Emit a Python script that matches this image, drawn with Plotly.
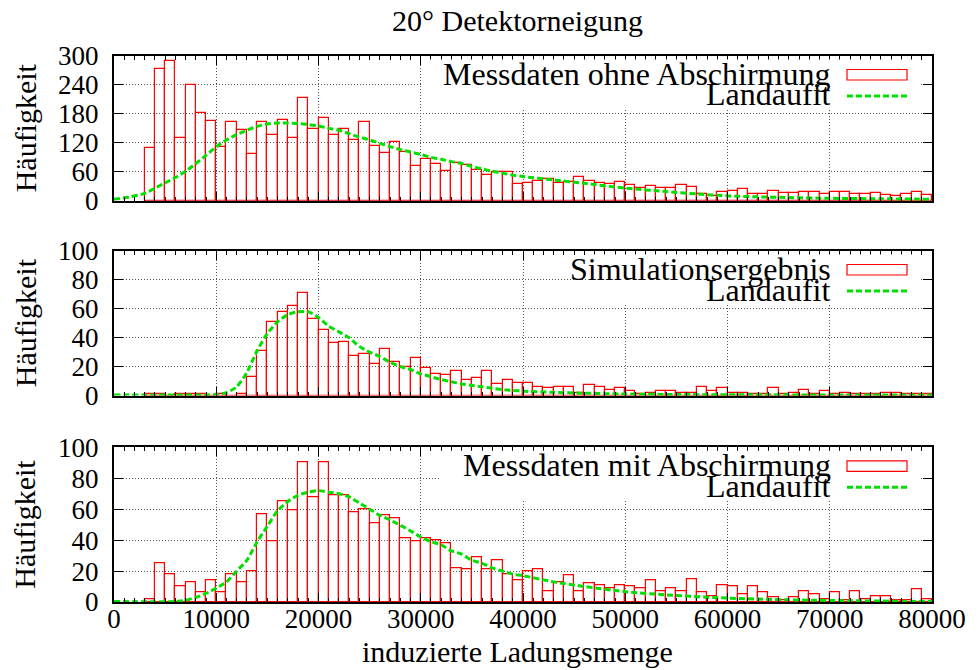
import plotly.graph_objects as go

BIN = 1000  # bin width of all histograms

# Messdaten ohne Abschirmung (first bin starts at 3000)
raw_start = 3000
raw_counts = [110, 274, 289, 129, 239, 181, 165, 112, 163, 147, 96, 163, 137, 168, 131, 212, 148, 171, 137, 148,
              125, 164, 114, 99, 122, 100, 72, 86, 77, 61, 79, 74, 63, 54, 60, 60, 35,
              36, 41, 44, 36, 39, 49, 40, 37, 35, 38, 33, 26, 31, 26, 26, 32, 28, 13, 10, 19,
              21, 24, 14, 14, 21, 17, 17, 19, 19, 13, 18, 18, 14, 13, 15, 12, 10, 14, 19, 12]
raw_fit_x = [0, 1500, 3000, 4000, 5000, 6000, 7000, 8000, 9000, 10000, 11000, 12000, 13000, 14000, 15000,
             16000, 17000, 18000, 19000, 20000, 21000, 22000, 23000, 24000, 25000, 26000, 27000, 28000,
             29000, 30000, 31000, 32000, 33000, 34000, 35000, 36000, 37000, 38000, 39000, 40000,
             43000, 46000, 50000, 54000, 57000, 60000, 63000, 66000, 70000, 75000, 80000]
raw_fit_y = [2.8, 8, 15, 26, 37, 48, 61, 77, 94, 112, 126, 137, 146, 154, 159, 161, 161, 160, 158, 155,
             150, 146, 139, 132, 126, 119, 112, 106, 101, 96, 90, 86, 81, 77, 71, 66, 61, 57, 53, 50,
             43, 36, 26, 19, 14, 10, 8, 6.5, 5, 4, 3]

# Simulationsergebnis
sim_start = 3000
sim_counts = [1, 1, 0, 1, 1, 1, 0, 1, 0, 1, 13, 31, 51, 58, 62, 71, 53, 45, 36, 37,
              27, 29, 22, 32, 23, 20, 26, 19, 15, 14, 17, 11, 12, 17, 8, 11, 9,
              9, 6, 5, 6, 6, 2, 7, 6, 4, 5, 3, 1, 2, 3, 3, 2, 2, 6, 3, 5,
              2, 2, 1, 1, 5, 1, 2, 4, 1, 3, 1, 2, 1, 1, 1, 2, 2, 1, 1, 1]
sim_fit_x = [0, 5000, 9000, 10000, 11000, 12000, 13000, 14000, 15000, 16000, 17000, 18000, 19000, 20000,
             21000, 22000, 23000, 24000, 25000, 26000, 27000, 28000, 29000, 30000, 31000, 32000, 33000,
             34000, 35000, 36000, 37000, 38000, 39000, 40000, 43000, 46000, 50000, 55000, 60000, 70000, 80000]
sim_fit_y = [0.3, 0.3, 0.4, 0.7, 2, 6, 16, 31, 43, 51, 56, 58, 58, 54, 48, 44, 40, 34, 30, 27, 23, 20,
             18, 15, 13, 11, 9.5, 8, 7, 6, 5, 4, 3.5, 3, 2.2, 1.6, 1, 0.7, 0.5, 0.4, 0.3]

# Messdaten mit Abschirmung
shd_start = 3000
shd_counts = [2, 25, 18, 10, 13, 6, 14, 6, 18, 13, 20, 57, 39, 65, 59, 90, 68, 90, 69, 69,
              58, 60, 51, 56, 54, 41, 39, 41, 40, 38, 22, 21, 29, 21, 27, 18, 14,
              20, 21, 7, 13, 17, 7, 12, 11, 9, 11, 10, 9, 14, 7, 9, 7, 15, 6, 4, 11,
              10, 5, 10, 6, 3, 1, 3, 7, 5, 2, 6, 1, 7, 2, 4, 4, 1, 1, 8, 2]
shd_fit_x = [0, 6000, 7000, 8000, 9000, 10000, 11000, 12000, 13000, 14000, 15000, 16000, 17000, 18000,
             19000, 20000, 21000, 22000, 23000, 24000, 25000, 26000, 27000, 28000, 29000, 30000, 31000,
             32000, 33000, 34000, 35000, 36000, 37000, 38000, 39000, 40000,
             43000, 46000, 50000, 54000, 60000, 66000, 72000, 80000]
shd_fit_y = [0.3, 0.3, 1, 3, 5.5, 9, 13, 20, 27, 39, 49, 59, 65, 69, 71, 72, 71, 70, 68, 64, 60, 56, 53,
             49.6, 46, 42, 39, 37, 33, 31, 27, 25, 22, 20, 18, 17, 13, 10, 6.7, 4.6, 2.5, 1.4, 0.8, 0.3]

x_ticks = [0, 10000, 20000, 30000, 40000, 50000, 60000, 70000, 80000]
y_ticks_raw = [0, 60, 120, 180, 240, 300]
y_ticks_pct = [0, 20, 40, 60, 80, 100]

title = "20° Detektorneigung"
x_title = "induzierte Ladungsmenge"
y_title = "Häufigkeit"
labels = ["Messdaten ohne Abschirmung", "Simulationsergebnis", "Messdaten mit Abschirmung"]
fit_label = "Landaufit"

FONT = "Liberation Serif, DejaVu Serif, serif"
TICK_SIZE = 27
TITLE_SIZE = 30
KEY_SIZE = 32
RED = "#ff0000"
GREEN = "#00e000"

# page geometry (pixels)
W, H = 979, 670
L, R, T, B = 114, 932, 56, 602


def px(p):
    return (p - L) / (R - L)


def py(p):
    return (B - p) / (B - T)


panels = [  # (top px, bottom px)
    (56, 200.7),
    (251, 395.5),
    (447.3, 602),
]

fig = go.Figure()

series = [
    (raw_start, raw_counts, raw_fit_x, raw_fit_y),
    (sim_start, sim_counts, sim_fit_x, sim_fit_y),
    (shd_start, shd_counts, shd_fit_x, shd_fit_y),
]

for i, (start, counts, fx, fy) in enumerate(series):
    xa = "x" if i == 0 else f"x{i + 1}"
    ya = "y" if i == 0 else f"y{i + 1}"
    centers = [start + BIN * (k + 0.5) for k in range(len(counts))]
    fig.add_trace(go.Bar(
        x=centers, y=counts, width=BIN, xaxis=xa, yaxis=ya, showlegend=False,
        marker=dict(color="rgba(0,0,0,0)", line=dict(color=RED, width=1.2)),
    ))
    fig.add_trace(go.Scatter(
        x=fx, y=fy, mode="lines", xaxis=xa, yaxis=ya, showlegend=False,
        line=dict(color=GREEN, width=3, dash="6px,3px", shape="spline", smoothing=0.6),
    ))

axis_common = dict(
    showline=True, linecolor="black", linewidth=2, mirror="ticks",
    ticks="inside", ticklen=9, tickwidth=1.2, tickcolor="black",
    showgrid=True, gridcolor="#555", gridwidth=1, griddash="1px,2px",
    zeroline=False, tickfont=dict(family=FONT, size=TICK_SIZE, color="black"),
)

layout = dict(
    width=W, height=H,
    margin=dict(l=L, r=W - R, t=T, b=H - B),
    paper_bgcolor="white", plot_bgcolor="white",
    bargap=0, showlegend=False,
    font=dict(family=FONT, size=TICK_SIZE, color="black"),
)

for i, (top, bot) in enumerate(panels):
    sfx = "" if i == 0 else str(i + 1)
    ax = dict(axis_common)
    ax.update(
        domain=[0, 1], range=[0, 80000], tickvals=x_ticks,
        ticktext=[str(v) for v in x_ticks],
        showticklabels=(i == 2), ticklabelstandoff=-8,
        minor=dict(dtick=BIN, tick0=0, ticks="inside", ticklen=4, tickwidth=1, tickcolor="black", showgrid=False),
        anchor="y" + sfx,
    )
    if i != 0:
        ax["matches"] = "x"
    yt = y_ticks_raw if i == 0 else y_ticks_pct
    ay = dict(axis_common)
    ay.update(
        domain=[max(0, py(bot)), min(1, py(top))], range=[yt[0], yt[-1]], tickvals=yt,
        ticktext=[str(v) for v in yt], ticklabelstandoff=8, anchor="x" + sfx,
    )
    layout["xaxis" + sfx] = ax
    layout["yaxis" + sfx] = ay

fig.update_layout(**layout)

shapes = []
annotations = []

key_left = [422, 587, 440]
for i, (top, bot) in enumerate(panels):
    # opaque key background
    shapes.append(dict(type="rect", xref="paper", yref="paper", layer="above",
                       x0=px(key_left[i]), x1=px(920), y0=py(top + 52), y1=py(top + 3.5),
                       fillcolor="white", line=dict(width=0)))
    shapes.append(dict(type="rect", xref="paper", yref="paper", layer="above",
                       x0=px(847), x1=px(907), y0=py(top + 24), y1=py(top + 13.5),
                       fillcolor="rgba(0,0,0,0)", line=dict(color=RED, width=1.2)))
    shapes.append(dict(type="line", xref="paper", yref="paper", layer="above",
                       x0=px(847), x1=px(907), y0=py(top + 40), y1=py(top + 40),
                       line=dict(color=GREEN, width=3, dash="6px,3px")))
    annotations.append(dict(text=labels[i], xref="paper", yref="paper", x=px(833), y=py(top + 17.5),
                            xanchor="right", yanchor="middle", showarrow=False,
                            font=dict(family=FONT, size=KEY_SIZE, color="black")))
    annotations.append(dict(text=fit_label, xref="paper", yref="paper", x=px(833), y=py(top + 38.5),
                            xanchor="right", yanchor="middle", showarrow=False,
                            font=dict(family=FONT, size=KEY_SIZE, color="black")))
    annotations.append(dict(text=y_title, xref="paper", yref="paper", x=px(25), y=py((top + bot) / 2),
                            xanchor="center", yanchor="middle", textangle=-90, showarrow=False,
                            font=dict(family=FONT, size=TITLE_SIZE, color="black")))

annotations.append(dict(text=title, xref="paper", yref="paper", x=px(517), y=py(20),
                        xanchor="center", yanchor="middle", showarrow=False,
                        font=dict(family=FONT, size=TITLE_SIZE, color="black")))
annotations.append(dict(text=x_title, xref="paper", yref="paper", x=px(517), y=py(651),
                        xanchor="center", yanchor="middle", showarrow=False,
                        font=dict(family=FONT, size=TITLE_SIZE, color="black")))

fig.update_layout(shapes=shapes, annotations=annotations)

fig.write_html("out.html")
